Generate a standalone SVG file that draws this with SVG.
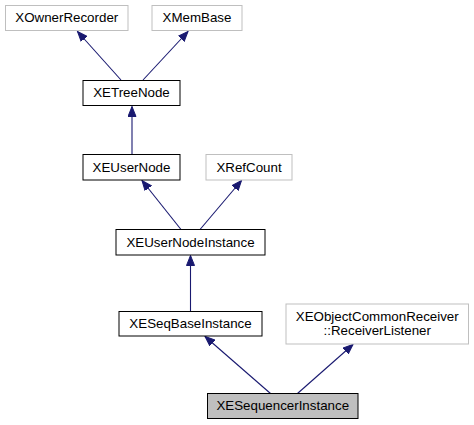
<svg xmlns="http://www.w3.org/2000/svg" width="474" height="425" viewBox="0 0 474 425">
<style>
.n rect{fill:#fff;stroke:#000;stroke-width:1}
.g rect{fill:#fff;stroke:#bfbfbf;stroke-width:1}
.h rect{fill:#bfbfbf;stroke:#000;stroke-width:1}
text{font-family:"Liberation Sans",Arial,sans-serif;font-size:13.33px;fill:#000;text-anchor:middle}
.e path{fill:none;stroke:#191970;stroke-width:1.1;marker-end:url(#a)}
</style>
<defs>
<marker id="a" markerUnits="userSpaceOnUse" markerWidth="11" markerHeight="9" refX="10" refY="4.5" orient="auto">
<path d="M0,0.5 L10,4.5 L0,8.5 z" fill="#191970" stroke="#191970" stroke-width="1"/>
</marker>
</defs>
<rect width="474" height="425" fill="#fff"/>
<g class="e">
<path d="M121,80 L77.5,31.5"/>
<path d="M143,80 L188,31.5"/>
<path d="M132,154 L132,106.5"/>
<path d="M181,229.5 L142,180.5"/>
<path d="M200,229.5 L241.5,180.5"/>
<path d="M190.5,311.5 L190.5,255.5"/>
<path d="M270.5,393.5 L205,336.5"/>
<path d="M297.5,393.5 L353,344.5"/>
</g>
<g id="XOwnerRecorder" class="g"><rect x="5.5" y="5.5" width="122.5" height="25"/><text x="66.75" y="22">XOwnerRecorder</text></g>
<g id="XMemBase" class="g"><rect x="152" y="5.5" width="90" height="25"/><text x="197" y="22">XMemBase</text></g>
<g id="XETreeNode" class="n"><rect x="83" y="80.5" width="97" height="25"/><text x="131.5" y="97">XETreeNode</text></g>
<g id="XEUserNode" class="n"><rect x="83" y="154.5" width="97" height="25.5"/><text x="131.5" y="171.5">XEUserNode</text></g>
<g id="XRefCount" class="g"><rect x="206" y="154.5" width="86" height="25.5"/><text x="249" y="171.5">XRefCount</text></g>
<g id="XEUserNodeInstance" class="n"><rect x="116" y="229.5" width="149" height="25.5"/><text x="190.5" y="246.5">XEUserNodeInstance</text></g>
<g id="XESeqBaseInstance" class="n"><rect x="119" y="311.5" width="143" height="24.5"/><text x="190.5" y="328">XESeqBaseInstance</text></g>
<g id="XEObjectCommonReceiver_ReceiverListener" class="g"><rect x="286" y="304" width="182.5" height="40"/><text x="377.25" y="320.5">XEObjectCommonReceiver</text><text x="377.25" y="335">::ReceiverListener</text></g>
<g id="XESequencerInstance" class="h"><rect x="207.5" y="393.5" width="150.5" height="25"/><text x="282.75" y="410">XESequencerInstance</text></g>
</svg>
